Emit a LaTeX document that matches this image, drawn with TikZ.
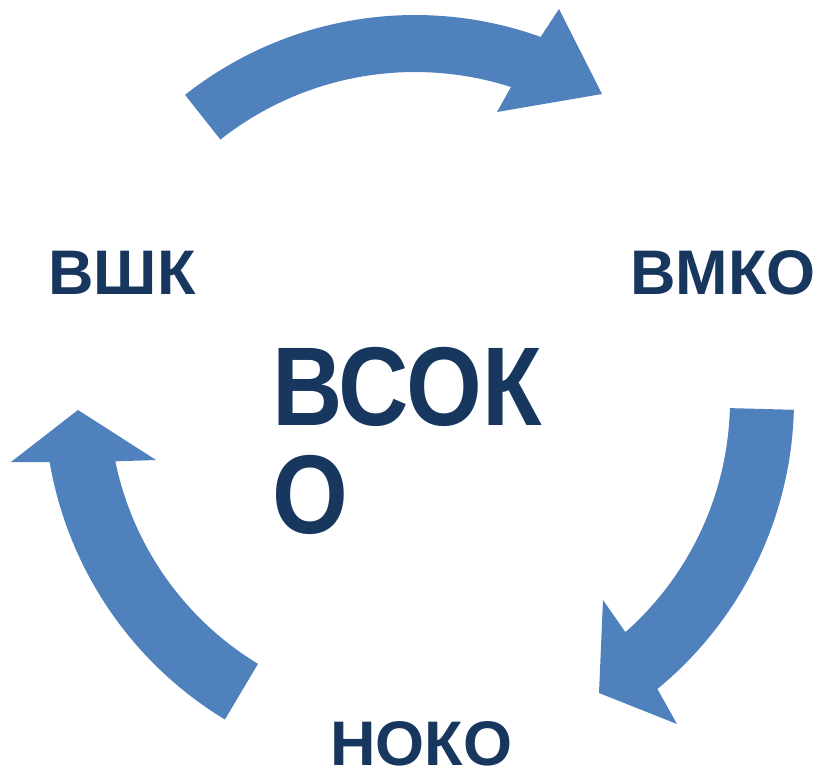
\documentclass[tikz,border=0pt]{standalone}
\usepackage{fontspec}
\setmainfont{Liberation Sans}
\newfontfamily\narrowsans[FakeStretch=0.87]{Liberation Sans}
\usetikzlibrary{calc}
\definecolor{arrowblue}{RGB}{79,129,189}
\definecolor{txtnavy}{RGB}{23,55,94}
\begin{document}
\begin{tikzpicture}[x=1pt,y=-1pt,
  blockarrow/.style={fill=arrowblue,draw=none},
  lbl/.style={text=txtnavy,font=\fontsize{63}{76}\selectfont\bfseries,inner sep=0pt,anchor=base west},
  biglbl/.style={text=txtnavy,font=\narrowsans\fontsize{112}{110}\selectfont\bfseries,inner sep=0pt,anchor=base west}]
\useasboundingbox[fill=white] (0,0) rectangle (817,771);
% centres
\coordinate (ct) at (415,386);
\coordinate (cr) at (420,400);
\coordinate (cl) at (419,399);
% top arrow
\fill[blockarrow] ($(ct)+(-128.3:371)$) arc[start angle=-128.3,end angle=-70.2,radius=371]
  -- (559,9) -- (602,94) -- (497,112) -- ($(ct)+(-72.2:314)$)
  arc[start angle=-72.2,end angle=-128.3,radius=314] -- cycle;
% right arrow
\fill[blockarrow] ($(cr)+(1.5:374)$) arc[start angle=1.5,end angle=50.6,radius=374]
  -- (677,724) -- (599,693) -- (603,600) -- ($(cr)+(48.5:310)$)
  arc[start angle=48.5,end angle=1.5,radius=310] -- cycle;
% left arrow
\fill[blockarrow] ($(cl)+(121.2:374.7)$) arc[start angle=121.2,end angle=170.3,radius=374.7]
  -- (11,462) -- (78,410) -- (156,460) -- ($(cl)+(168.4:310)$)
  arc[start angle=168.4,end angle=121.3,radius=310] -- cycle;
% labels
\node[lbl] (vshk) at (48,294) {ВШК};
\node[lbl] (vmko) at (630,294) {ВМКО};
\node[lbl,text depth=0pt] (noko) at (330,765) {НОКО};
\node[biglbl] (vsok) at (272,425) {ВСОК};
\node[biglbl] (o) at (272,533) {О};
\end{tikzpicture}
\end{document}
